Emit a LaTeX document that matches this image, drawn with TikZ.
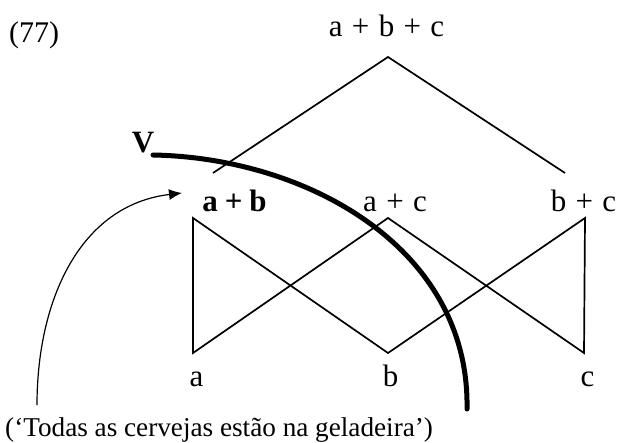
\documentclass[tikz,border=0pt]{standalone}
\usepackage{fontspec}
\setmainfont{Liberation Serif}
\usetikzlibrary{arrows.meta}
\newcommand\plussep{\hspace{0.3em}+\hspace{0.3em}}
\newcommand\bplussep{\hspace{0.22em}+\hspace{0.22em}}
\tikzset{
  lbl/.style={inner sep=0pt, anchor=base, font=\fontsize{31}{34}\selectfont},
  txt/.style={inner sep=0pt, anchor=base west, font=\fontsize{27.2}{30}\selectfont},
  edge/.style={line width=1.7pt, line join=miter},
  vline/.style={line width=5pt, line cap=round},
  pointer/.style={line width=1.2pt, -{Latex[length=13pt,width=11pt]}}
}
\begin{document}
\begin{tikzpicture}[x=1pt,y=-1pt]
\useasboundingbox (0,0) rectangle (617,443);
% labels
\node[txt,font=\fontsize{30}{33}\selectfont] (num) at (9,43) {(77)};
\node[lbl] (abc) at (386.5,37) {a\plussep b\plussep c};
\node[lbl] (ab) at (234.5,212) {\bfseries a\bplussep b};
\node[lbl] (ac) at (395,212) {a\plussep c};
\node[lbl] (bc) at (583.5,212) {b\plussep c};
\node[lbl] (a) at (196.5,386) {a};
\node[lbl] (b) at (390.5,386) {b};
\node[lbl] (c) at (587.5,386) {c};
\node[lbl] (V) at (143,153) {\bfseries V};
\node[txt] (quote) at (5,436.5) {(‘Todas as cervejas estão na geladeira’)};
% vertices
\coordinate (apex) at (388,57);
\coordinate (tl) at (213,173);
\coordinate (tr) at (565,173);
\coordinate (vab) at (193,218);
\coordinate (vac) at (388,218);
\coordinate (vbc) at (585,218);
\coordinate (va) at (193,353);
\coordinate (vb) at (388,353);
\coordinate (vc) at (584,353);
% top triangle
\draw[edge] (tl) -- (apex) -- (tr);
% lattice
\draw[edge] (va) -- (vab) -- (vb) -- (vbc) -- (vc) -- (vac) -- cycle;
% V curve
\coordinate (vs) at (153,155);
\coordinate (ve) at (467,409);
\draw[vline] (vs) .. controls (310,158) and (470,250) .. (ve);
% pointer
\coordinate (ps) at (37,405);
\coordinate (pe) at (182,193);
\draw[pointer] (ps) .. controls (37,300) and (80,205) .. (pe);
\end{tikzpicture}
\end{document}
